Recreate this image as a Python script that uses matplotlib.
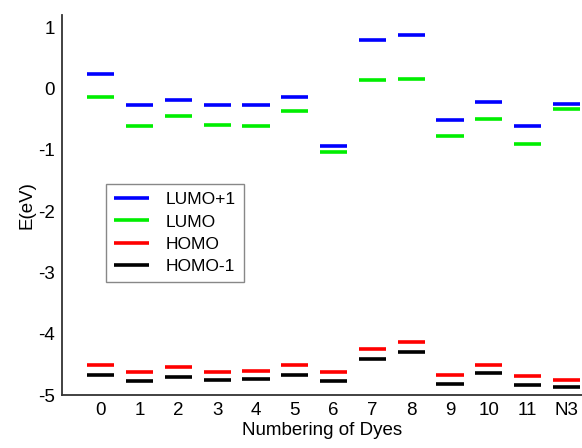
import numpy as np
import matplotlib
matplotlib.use("Agg")
import matplotlib.pyplot as plt

plt.rcParams['font.family'] = ['Liberation Sans', 'DejaVu Sans']
plt.rcParams['axes.unicode_minus'] = False

# Dye labels and orbital energies (eV)
dyes = ["0", "1", "2", "3", "4", "5", "6", "7", "8", "9", "10", "11", "N3"]
lumo_p1 = [0.24, -0.27, -0.18, -0.26, -0.26, -0.13, -0.93, 0.79, 0.875, -0.51, -0.215, -0.605, -0.25]
lumo = [-0.13, -0.605, -0.447, -0.593, -0.615, -0.36, -1.03, 0.133, 0.16, -0.772, -0.50, -0.907, -0.328]
homo = [-4.515, -4.628, -4.547, -4.622, -4.60, -4.515, -4.617, -4.248, -4.135, -4.666, -4.515, -4.687, -4.747]
homo_m1 = [-4.666, -4.768, -4.698, -4.752, -4.73, -4.666, -4.763, -4.41, -4.297, -4.812, -4.644, -4.828, -4.864]

x = np.arange(len(dyes))
half = 0.35

fig = plt.figure(figsize=(5.82, 4.48), dpi=100)
ax = fig.add_axes([0.1065, 0.118, 0.8935, 0.8485])

series = [
    (lumo_p1, "#0000ff", "LUMO+1"),
    (lumo, "#00ee00", "LUMO"),
    (homo, "#ff0000", "HOMO"),
    (homo_m1, "#000000", "HOMO-1"),
]
for vals, col, lab in series:
    ax.hlines(vals, x - half, x + half, colors=col, linewidth=2.6, label=lab)

ax.set_xlim(-1, 12.4)
ax.set_ylim(-5, 1.2)
ax.set_xticks(x)
ax.set_xticklabels(dyes)
ax.set_yticks([1, 0, -1, -2, -3, -4, -5])
ax.tick_params(length=0, labelsize=13.5, pad=5)

for s in ["top", "right"]:
    ax.spines[s].set_visible(False)
for s in ["left", "bottom"]:
    ax.spines[s].set_linewidth(1.3)
    ax.spines[s].set_color("#333333")

ax.set_xlabel("Numbering of Dyes", fontsize=13.5, labelpad=2)
ax.set_ylabel("E(eV)", fontsize=13.5, labelpad=2)

leg = ax.legend(loc="upper left", bbox_to_anchor=(0.068, 0.578), fontsize=12.5,
                fancybox=False, framealpha=1, edgecolor="#888888",
                handlelength=2.0, handletextpad=1.0, labelspacing=0.42,
                borderpad=0.45)
leg.get_frame().set_linewidth(1.0)

fig.savefig("out.png", dpi=100)
